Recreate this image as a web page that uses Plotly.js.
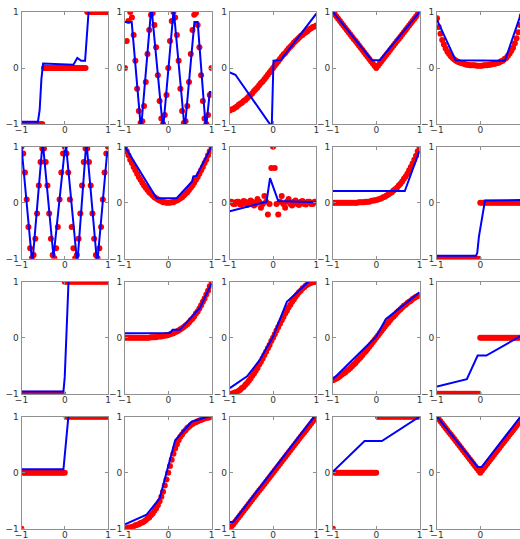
<!DOCTYPE html>
<html>
<head>
<meta charset="utf-8">
<script src="https://cdn.plot.ly/plotly-3.0.1.min.js"></script>
<style>
  html, body { margin: 0; padding: 0; overflow: hidden; background: #fff; }
  #container { width: 530px; height: 539px; }
</style>
</head>
<body>
<div id="container"></div>
<script>
// sample positions shared by every red series
var xs = [-1,-0.96,-0.92,-0.88,-0.84,-0.8,-0.76,-0.72,-0.68,-0.64,-0.6,-0.56,-0.52,-0.48,-0.44,-0.4,-0.36,-0.32,-0.28,-0.24,-0.2,-0.16,-0.12,-0.08,-0.04,
          0,0.04,0.08,0.12,0.16,0.2,0.24,0.28,0.32,0.36,0.4,0.44,0.48,0.52,0.56,0.6,0.64,0.68,0.72,0.76,0.8,0.84,0.88,0.92,0.96,1];

// target curves (red points)
var yRound = [-1,-1,-1,-1,-1,-1,-1,-1,-1,-1,-1,-1,-1,0,0,0,0,0,0,0,0,0,0,0,0,
              0,0,0,0,0,0,0,0,0,0,0,0,0,1,1,1,1,1,1,1,1,1,1,1,1,1];
var ySin = [0,0.48,0.84,1,0.9,0.59,0.13,-0.37,-0.77,-0.98,-0.95,-0.68,-0.25,0.25,0.68,0.95,0.98,0.77,0.37,-0.13,-0.59,-0.9,-1,-0.84,-0.48,
            0,0.48,0.84,1,0.9,0.59,0.13,-0.37,-0.77,-0.98,-0.95,-0.68,-0.25,0.25,0.68,0.95,0.98,0.77,0.37,-0.13,-0.59,-0.9,-1,-0.84,-0.48,0];
var yTanh = [-0.76,-0.74,-0.73,-0.71,-0.69,-0.66,-0.64,-0.62,-0.59,-0.57,-0.54,-0.51,-0.48,-0.45,-0.41,-0.38,-0.35,-0.31,-0.27,-0.24,-0.2,-0.16,-0.12,-0.08,-0.04,
             0,0.04,0.08,0.12,0.16,0.2,0.24,0.27,0.31,0.35,0.38,0.41,0.45,0.48,0.51,0.54,0.57,0.59,0.62,0.64,0.66,0.69,0.71,0.73,0.74,0.76];
var yAbs = [1,0.96,0.92,0.88,0.84,0.8,0.76,0.72,0.68,0.64,0.6,0.56,0.52,0.48,0.44,0.4,0.36,0.32,0.28,0.24,0.2,0.16,0.12,0.08,0.04,
            0,0.04,0.08,0.12,0.16,0.2,0.24,0.28,0.32,0.36,0.4,0.44,0.48,0.52,0.56,0.6,0.64,0.68,0.72,0.76,0.8,0.84,0.88,0.92,0.96,1];
var yBowl = [0.89,0.73,0.61,0.5,0.42,0.35,0.29,0.25,0.21,0.18,0.15,0.13,0.11,0.1,0.09,0.08,0.07,0.06,0.06,0.05,0.05,0.05,0.05,0.04,0.04,
             0.04,0.04,0.05,0.05,0.05,0.06,0.06,0.07,0.07,0.08,0.09,0.1,0.12,0.13,0.16,0.18,0.22,0.26,0.31,0.36,0.44,0.53,0.64,0.77,0.93,1.13];
var yCos = [1,0.88,0.54,0.06,-0.43,-0.81,-0.99,-0.93,-0.64,-0.19,0.31,0.73,0.97,0.97,0.73,0.31,-0.19,-0.64,-0.93,-0.99,-0.81,-0.43,0.06,0.54,0.88,
            1,0.88,0.54,0.06,-0.43,-0.81,-0.99,-0.93,-0.64,-0.19,0.31,0.73,0.97,0.97,0.73,0.31,-0.19,-0.64,-0.93,-0.99,-0.81,-0.43,0.06,0.54,0.88,1];
var ySq = [1,0.92,0.85,0.77,0.71,0.64,0.58,0.52,0.46,0.41,0.36,0.31,0.27,0.23,0.19,0.16,0.13,0.1,0.08,0.06,0.04,0.03,0.01,0.01,0,
           0,0,0.01,0.01,0.03,0.04,0.06,0.08,0.1,0.13,0.16,0.19,0.23,0.27,0.31,0.36,0.41,0.46,0.52,0.58,0.64,0.71,0.77,0.85,0.92,1];
var ySinc = [0.02,0.02,-0.02,-0.02,0.02,0.02,-0.03,-0.02,0.03,0.02,-0.04,-0.02,0.04,0.02,-0.05,-0.02,0.07,0.02,-0.09,-0.02,0.12,0.02,-0.21,-0.02,0.62,
             1,0.62,-0.02,-0.21,0.02,0.12,-0.02,-0.09,0.02,0.07,-0.02,-0.05,0.02,0.04,-0.02,-0.04,0.02,0.03,-0.02,-0.03,0.02,0.02,-0.02,-0.02,0.02,0.02];
var yExp = [0,0,0,0,0,0,0,0,0,0,0,0,0,0,0,0.01,0.01,0.01,0.01,0.02,0.02,0.02,0.03,0.04,0.04,
            0.05,0.06,0.07,0.08,0.1,0.11,0.13,0.15,0.17,0.19,0.22,0.24,0.27,0.31,0.34,0.38,0.43,0.47,0.52,0.58,0.64,0.7,0.77,0.84,0.92,1];
var yFloor = [-1,-1,-1,-1,-1,-1,-1,-1,-1,-1,-1,-1,-1,-1,-1,-1,-1,-1,-1,-1,-1,-1,-1,-1,-1,
              0,0,0,0,0,0,0,0,0,0,0,0,0,0,0,0,0,0,0,0,0,0,0,0,0,1];
var ySign = [-1,-1,-1,-1,-1,-1,-1,-1,-1,-1,-1,-1,-1,-1,-1,-1,-1,-1,-1,-1,-1,-1,-1,-1,-1,
             1,1,1,1,1,1,1,1,1,1,1,1,1,1,1,1,1,1,1,1,1,1,1,1,1,1];
var ySoft = [-1,-1,-0.99,-0.98,-0.97,-0.95,-0.93,-0.9,-0.88,-0.84,-0.81,-0.77,-0.73,-0.68,-0.64,-0.59,-0.54,-0.48,-0.43,-0.37,-0.31,-0.25,-0.19,-0.13,-0.06,
             0,0.06,0.13,0.19,0.25,0.31,0.37,0.43,0.48,0.54,0.59,0.64,0.68,0.73,0.77,0.81,0.84,0.88,0.9,0.93,0.95,0.97,0.98,0.99,1,1];
var yAtan = [-1,-0.99,-0.98,-0.98,-0.97,-0.96,-0.94,-0.93,-0.92,-0.9,-0.89,-0.87,-0.85,-0.82,-0.8,-0.76,-0.73,-0.68,-0.64,-0.58,-0.51,-0.43,-0.34,-0.23,-0.12,
             0,0.12,0.23,0.34,0.43,0.51,0.58,0.64,0.68,0.73,0.76,0.8,0.82,0.85,0.87,0.89,0.9,0.92,0.93,0.94,0.96,0.97,0.98,0.98,0.99,1];
var yLine = [-1,-0.96,-0.92,-0.88,-0.84,-0.8,-0.76,-0.72,-0.68,-0.64,-0.6,-0.56,-0.52,-0.48,-0.44,-0.4,-0.36,-0.32,-0.28,-0.24,-0.2,-0.16,-0.12,-0.08,-0.04,
             0,0.04,0.08,0.12,0.16,0.2,0.24,0.28,0.32,0.36,0.4,0.44,0.48,0.52,0.56,0.6,0.64,0.68,0.72,0.76,0.8,0.84,0.88,0.92,0.96,1];
var yCeil = [-1,0,0,0,0,0,0,0,0,0,0,0,0,0,0,0,0,0,0,0,0,0,0,0,0,
             0,1,1,1,1,1,1,1,1,1,1,1,1,1,1,1,1,1,1,1,1,1,1,1,1,1];

// fitted approximations (blue lines), one x/y pair per panel
var fx1 = [-1,-0.62,-0.58,-0.54,-0.5,0.2,0.29,0.38,0.47,0.56,1];
var fy1 = [-0.96,-0.96,-0.75,-0.2,0.08,0.06,0.18,0.13,0.13,1.1,1.1];
var fx2 = [-1,-0.845,-0.63,-0.39,-0.12,0.125,0.38,0.605,0.68,0.87,0.96,1];
var fy2 = [0.82,0.82,-1.1,1.1,-1.1,1.05,-1.1,0.82,0.82,-1.1,-0.43,-0.43];
var fx3 = [-1,-0.87,-0.03,0.01,0.18,1];
var fy3 = [-0.08,-0.12,-1.05,0.13,0.14,0.97];
var fx4 = [-1,-0.1,0.08,1];
var fy4 = [1,0.14,0.14,1];
var fx5 = [-1,-0.57,0.57,1];
var fy5 = [0.86,0.14,0.13,1.1];
var fx6 = [-1,-0.75,-0.51,-0.26,0.02,0.29,0.5,0.75,0.98,1];
var fy6 = [1,-1.1,1.1,-0.97,1.1,-1.1,1.1,-1.1,0.9,0.9];
var fx7 = [-1,-0.27,0.19,0.55,0.58,0.65,1];
var fy7 = [1,0.08,0.08,0.38,0.47,0.48,1];
var fx8 = [-1,-0.22,-0.15,-0.07,0.12,1];
var fy8 = [-0.15,0,0.02,0.44,0.03,0.01];
var fx9 = [-1,0.66,1];
var fy9 = [0.21,0.21,0.93];
var fx10 = [-1,-0.1,-0.07,-0.03,0.11,1];
var fy10 = [-0.945,-0.945,-0.9,-0.6,0.04,0.05];
var fx11 = [-1,-0.03,0,0.09,1];
var fy11 = [-0.96,-0.96,-0.7,1.05,1.05];
var fx12 = [-1,0.04,0.1,0.27,0.73,1];
var fy12 = [0.08,0.085,0.14,0.14,0.53,0.97];
var fx13 = [-1,-0.6,-0.3,0,0.32,0.82,1];
var fy13 = [-0.9,-0.69,-0.39,0.02,0.64,1,1.1];
var fx14 = [-1,0,0.22,1];
var fy14 = [-0.74,0.02,0.33,0.81];
var fx15 = [-1,-0.31,-0.06,0.14,1];
var fy15 = [-0.87,-0.74,-0.32,-0.32,0.06];
var fx16 = [-1,-0.03,0.09,1];
var fy16 = [0.06,0.06,1.05,1.05];
var fx17 = [-1,-0.5,-0.2,0.16,0.54,1];
var fy17 = [-0.92,-0.75,-0.46,0.58,0.91,1.02];
var fx18 = [-1,-0.92,1];
var fy18 = [-0.88,-0.88,1.05];
var fx19 = [-1,-0.27,0.13,1];
var fy19 = [0.02,0.565,0.565,1];
var fx20 = [-1,-0.06,0.03,1];
var fy20 = [1,0.1,0.1,1.07];

var panels = [
  [yRound, fx1, fy1], [ySin, fx2, fy2], [yTanh, fx3, fy3], [yAbs, fx4, fy4], [yBowl, fx5, fy5],
  [yCos, fx6, fy6], [ySq, fx7, fy7], [ySinc, fx8, fy8], [yExp, fx9, fy9], [yFloor, fx10, fy10],
  [ySign, fx11, fy11], [yExp, fx12, fy12], [ySoft, fx13, fy13], [yTanh, fx14, fy14], [yFloor, fx15, fy15],
  [yCeil, fx16, fy16], [yAtan, fx17, fy17], [yLine, fx18, fy18], [yCeil, fx19, fy19], [yAbs, fx20, fy20]
];

var tickVals = [-1, 0, 1];
var tickText = ['\u22121', '0', '1'];
var tickTextEdge = ['\u22121', '0', ''];   // last column runs past the window edge

// grid geometry in pixels (figure is a bit wider than the window, like the source)
var W = 530, H = 539;
var colLeft = [21.5, 125, 229.8, 333, 437], pw = 86.5;
var rowTop = [12, 146.8, 281.7, 416.7], ph = 112;

function axisStyle(domain, anchor, labels, standoff) {
  return {
    domain: domain, anchor: anchor, range: [-1, 1],
    tickvals: tickVals, ticktext: labels,
    showgrid: false, zeroline: false,
    showline: true, mirror: 'ticks', linecolor: '#909090', linewidth: 1,
    ticks: 'inside', ticklen: 3, tickcolor: '#909090',
    ticklabelstandoff: standoff,
    tickfont: { family: 'DejaVu Sans', size: 9, color: '#333' },
    fixedrange: true
  };
}

var data = [];
var layout = {
  width: W, height: H,
  margin: { l: 0, r: 0, t: 0, b: 0 },
  showlegend: false,
  plot_bgcolor: '#fff', paper_bgcolor: '#fff',
  hovermode: false
};

panels.forEach(function (p, i) {
  var n = i + 1, sfx = n > 1 ? String(n) : '';
  var row = Math.floor(i / 5), col = i % 5;
  var x0 = colLeft[col] / W, x1 = (colLeft[col] + pw) / W;
  var y1 = 1 - rowTop[row] / H, y0 = 1 - (rowTop[row] + ph) / H;

  data.push({
    x: xs, y: p[0], xaxis: 'x' + sfx, yaxis: 'y' + sfx,
    type: 'scatter', mode: 'markers',
    marker: { color: '#ff0000', size: 6 }
  });
  data.push({
    x: p[1], y: p[2], xaxis: 'x' + sfx, yaxis: 'y' + sfx,
    type: 'scatter', mode: 'lines',
    line: { color: '#0000ff', width: 2 }
  });

  layout['xaxis' + sfx] = axisStyle([x0, x1], 'y' + sfx, col === 4 ? tickTextEdge : tickText, -3);
  layout['yaxis' + sfx] = axisStyle([y0, y1], 'x' + sfx, tickText, 0);
});

Plotly.newPlot('container', data, layout, { displayModeBar: false, staticPlot: true });
</script>
</body>
</html>
